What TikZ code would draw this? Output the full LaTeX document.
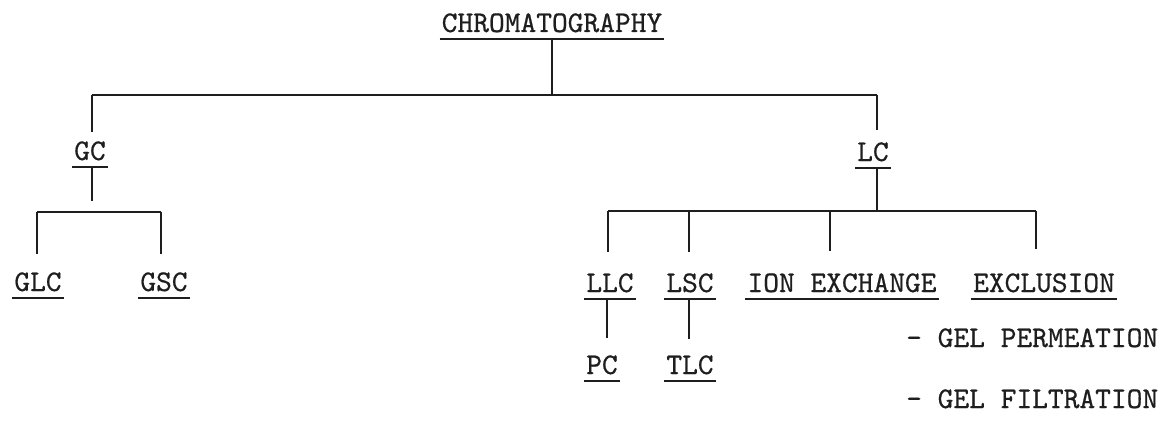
\documentclass[tikz,border=0pt]{standalone}
\usepackage{fontspec}
\setmonofont{lmmono10-regular.otf}[FakeBold=0.6]
\definecolor{ink}{HTML}{1E1E1E}
\begin{document}
\begin{tikzpicture}[x=1pt,y=-1pt,
  lab/.style={font=\fontsize{30}{30}\selectfont\ttfamily, text=ink, inner sep=0pt, text height=18pt, text depth=7pt, anchor=base},
  sub/.style={font=\fontsize{30}{30}\selectfont\ttfamily, text=ink, inner sep=0pt, anchor=base west},
  conn/.style={draw=ink, line width=1.6pt},
  ul/.style={draw=ink, line width=1.6pt}]
\useasboundingbox[fill=white] (0,0) rectangle (1166,422);

% nodes
\node[lab] (chrom) at (552,32) {CHROMATOGRAPHY};
\node[lab] (gc)  at (90,160)  {GC};
\node[lab] (lc)  at (873,161) {LC};
\node[lab] (glc) at (38,291)  {GLC};
\node[lab] (gsc) at (164,291) {GSC};
\node[lab] (llc) at (610,292) {LLC};
\node[lab] (lsc) at (690,292) {LSC};
\node[lab] (ion) at (842,292) {ION EXCHANGE};
\node[lab] (exc) at (1044,292) {EXCLUSION};
\node[lab] (pc)  at (602,374) {PC};
\node[lab] (tlc) at (690,374) {TLC};
\node[sub] (gp)  at (906,347) {- GEL PERMEATION};
\node[sub] (gf)  at (906,408) {- GEL FILTRATION};

% underlines
\foreach \n in {chrom,gc,lc,glc,gsc,llc,lsc,ion,exc,pc,tlc}
  \draw[ul] ([xshift=-2pt]\n.south west) -- ([xshift=2pt]\n.south east);

% level 1
\coordinate (b1l) at (92,95);
\coordinate (b1r) at (877,95);
\coordinate (gctop) at (92,132);
\coordinate (lctop) at (877,130);
\draw[conn] (chrom.south) -- (chrom.south |- b1l);
\draw[conn] (b1l) -- (b1r);
\draw[conn] (b1l) -- (gctop);
\draw[conn] (b1r) -- (lctop);

% GC branch
\coordinate (gcend) at (92,201);
\coordinate (b2l) at (37,212);
\coordinate (b2r) at (161,212);
\coordinate (glctop) at (37,254);
\coordinate (gsctop) at (161,254);
\draw[conn] (gc.south -| gcend) -- (gcend);
\draw[conn] (b2l) -- (b2r);
\draw[conn] (b2l) -- (glctop);
\draw[conn] (b2r) -- (gsctop);

% LC branch
\coordinate (b3l) at (608,211);
\coordinate (b3r) at (1036,211);
\coordinate (lcx) at (877,211);
\draw[conn] (lc.south -| lcx) -- (lcx);
\draw[conn] (b3l) -- (b3r);
\coordinate (llctop) at (608,252);
\coordinate (lsctop) at (689,252);
\coordinate (iontop) at (830,251);
\coordinate (exctop) at (1036,249);
\draw[conn] (b3l) -- (llctop);
\draw[conn] (b3l -| lsctop) -- (lsctop);
\draw[conn] (b3l -| iontop) -- (iontop);
\draw[conn] (b3r) -- (exctop);

% sub-branches
\coordinate (pctop) at (607,338);
\coordinate (tlctop) at (689,339);
\draw[conn] (llc.south -| pctop) -- (pctop);
\draw[conn] (lsc.south -| tlctop) -- (tlctop);
\end{tikzpicture}
\end{document}
